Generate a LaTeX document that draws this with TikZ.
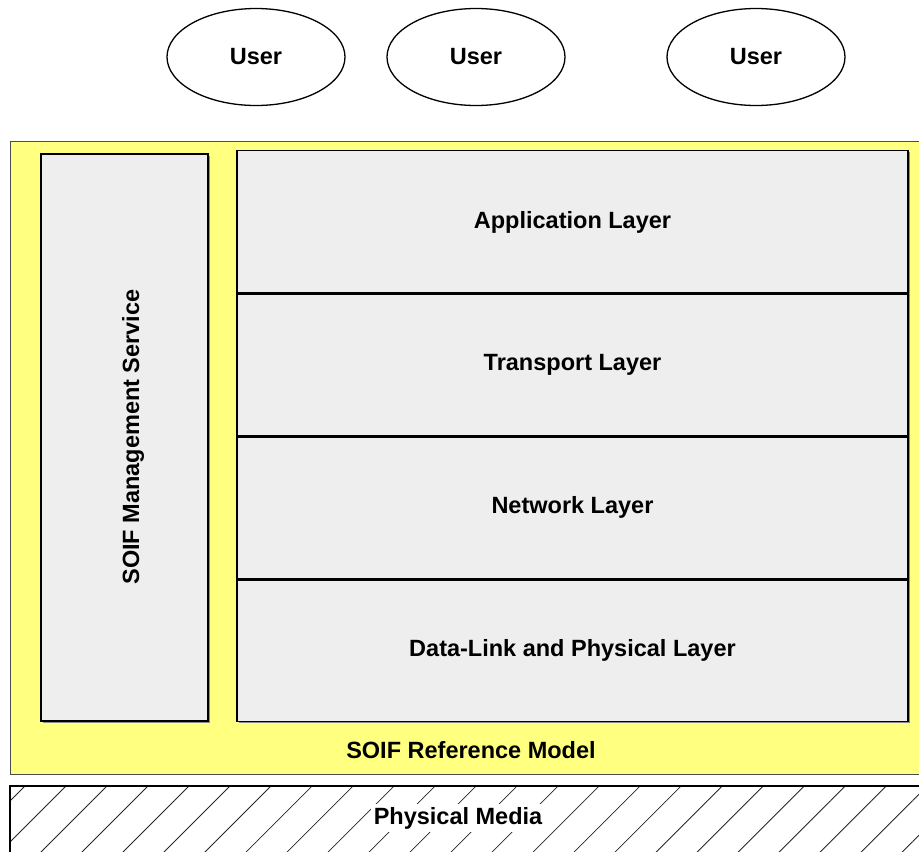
\documentclass[tikz,border=0pt]{standalone}
\usepackage{fontspec}
\setmainfont{Liberation Sans}
\usetikzlibrary{shapes.geometric,patterns.meta,shadows}

\definecolor{soifyellow}{RGB}{255,255,128}
\definecolor{layergray}{RGB}{238,238,238}

\tikzset{
  lbl/.style={font=\fontsize{23.5}{28}\selectfont\bfseries},
  user/.style={draw, line width=1.3pt, ellipse, minimum width=178pt, minimum height=97pt, inner sep=0pt, lbl},
  layer/.style={draw, line width=1.8pt, fill=layergray, minimum width=671pt, minimum height=143pt, inner sep=0pt, lbl,
    drop shadow={shadow xshift=1.5pt, shadow yshift=-1.5pt, fill=black!45, opacity=1}},
}

\begin{document}
\begin{tikzpicture}[x=1pt,y=-1pt]
\useasboundingbox (0,0) rectangle (919,852);
\clip (0,0) rectangle (919,852);
% users on top
\draw (256,57) node[user] (u1) {User};
\draw (476,57) node[user] (u2) {User};
\draw (756,57) node[user] (u3) {User};
% reference model frame
\draw [fill=soifyellow, draw=black!70, line width=0.8pt] (10,141) rectangle (940,774);
\draw (471,750) node[lbl] (model) {SOIF Reference Model};
% management service column
\draw [line width=1.8pt, fill=layergray, drop shadow={shadow xshift=1.5pt, shadow yshift=-1.5pt, fill=black!45, opacity=1}] (41,154) rectangle (208,721);
\draw (133,437) node[lbl, rotate=90] (mgmt) {SOIF Management Service};
% protocol stack
\draw (572.5,222) node[layer] (app) {Application Layer};
\draw (572.5,364.5) node[layer] (tra) {Transport Layer};
\draw (572.5,507.5) node[layer] (net) {Network Layer};
\draw (572.5,650) node[layer] (dll) {Data-Link and Physical Layer};
\draw [line width=1.8pt] (app.south west) -- (app.south east);
\draw [line width=1.8pt] (tra.south west) -- (tra.south east);
\draw [line width=1.8pt] (net.south west) -- (net.south east);
% physical media
\draw [line width=1.5pt, pattern={Lines[angle=45, distance=29pt, line width=0.8pt]}, pattern color=black!85] (10,786) rectangle (940,880);
\draw (458,818) node[lbl, fill=white, inner sep=3pt] (media) {Physical Media};
\end{tikzpicture}
\end{document}
